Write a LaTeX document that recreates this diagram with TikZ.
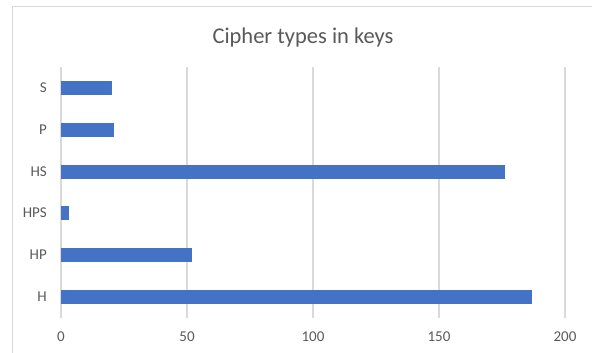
\documentclass[tikz,border=0pt]{standalone}
\usepackage{fontspec}
\setmainfont{Carlito}
\usetikzlibrary{positioning}
\definecolor{barblue}{HTML}{4472C4}
\definecolor{gridgrey}{HTML}{D9D9D9}
\definecolor{textgrey}{HTML}{595959}
\tikzset{barnode/.style={fill=barblue, inner sep=0pt, minimum height=14pt, anchor=west},
  catnode/.style={text=textgrey, inner sep=0pt, font=\fontsize{15}{18}\selectfont},
  ticknode/.style={text=textgrey, inner sep=0pt, font=\fontsize{15}{18}\selectfont},
  gridline/.style={gridgrey, line width=1.2pt},}

\begin{document}
\begin{tikzpicture}[x=1pt, y=-1pt]
\useasboundingbox (0,0) rectangle (592,353);
% chart frame
\draw[gridgrey, line width=1.5pt] (12.5,360) -- (12.5,6.5) -- (600,6.5);
\node[text=textgrey, font=\fontsize{22.5}{27}\selectfont] (title) at (303,38) {Cipher types in keys};
% grid and axis numbers
\foreach \v in {0,50,100,150,200} {
  \draw[gridline] (61+2.52*\v,67) -- (61+2.52*\v,318);
  \node[ticknode] (t\v) at (61+2.52*\v,337) {\v};
}
% bars
\node[barnode, minimum width=50.4pt] (s) at (61,88) {};
\node[barnode, minimum width=52.9pt] (p) at (61,130) {};
\node[barnode, minimum width=443.5pt] (hs) at (61,172) {};
\node[barnode, minimum width=7.6pt] (hps) at (61,213) {};
\node[barnode, minimum width=131pt] (hp) at (61,255) {};
\node[barnode, minimum width=471.2pt] (h) at (61,297) {};
% category names
\node[catnode] (ls) [left=14pt of s] {S};
\node[catnode] (lp) [left=14pt of p] {P};
\node[catnode] (lhs) [left=14pt of hs] {HS};
\node[catnode] (lhps) [left=14pt of hps] {HPS};
\node[catnode] (lhp) [left=14pt of hp] {HP};
\node[catnode] (lh) [left=14pt of h] {H};
\end{tikzpicture}
\end{document}
